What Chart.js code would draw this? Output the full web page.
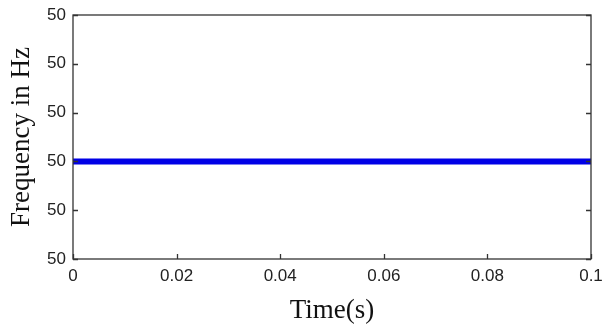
<html>
<head>
  <style>
    body { margin: 0; background: #fff; }
    #wrap { width: 603px; height: 331px; }
  </style>
</head>
<body>
  <div id="wrap"><canvas id="freqChart" width="603" height="331"></canvas></div>

  <script src="https://cdn.jsdelivr.net/npm/chart.js"></script>
  <script>
    // data
    const timeS = [0, 0.1];
    const freqHz = [50, 50];
    const xTicks = [0, 0.02, 0.04, 0.06, 0.08, 0.1];
    const xTickLabels = ['0', '0.02', '0.04', '0.06', '0.08', '0.1'];
    // y axis spans a tiny range round 50, so every label rounds to "50"
    const yTicks = [49.99998, 49.99999, 50, 50.00001, 50.00002, 50.00003];
    const yTickLabels = ['50', '50', '50', '50', '50', '50'];

    // inward ticks and box like the original plot
    const boxPlugin = {
      id: 'boxPlugin',
      afterDraw(chart) {
        const { ctx, chartArea: a, scales } = chart;
        ctx.save();
        ctx.strokeStyle = '#333';
        ctx.lineWidth = 1.3;
        ctx.strokeRect(a.left, a.top, a.right - a.left, a.bottom - a.top);
        const len = 5;
        ctx.beginPath();
        xTicks.forEach(v => {
          const x = Math.round(scales.x.getPixelForValue(v)) + 0.5;
          ctx.moveTo(x, a.bottom); ctx.lineTo(x, a.bottom - len);
        });
        yTicks.forEach(v => {
          const y = Math.round(scales.y.getPixelForValue(v)) + 0.5;
          ctx.moveTo(a.left, y); ctx.lineTo(a.left + len, y);
          ctx.moveTo(a.right, y); ctx.lineTo(a.right - len, y);
        });
        ctx.stroke();
        ctx.restore();
      }
    };

    const ctx = document.getElementById('freqChart').getContext('2d');
    new Chart(ctx, {
      type: 'line',
      data: {
        datasets: [{
          data: timeS.map((t, i) => ({ x: t, y: freqHz[i] })),
          borderColor: '#0000e6',
          borderWidth: 6,
          pointRadius: 0,
          fill: false
        }]
      },
      options: {
        responsive: false,
        animation: false,
        layout: { padding: { top: 15, right: 12, left: 0, bottom: 0 } },
        plugins: { legend: { display: false }, tooltip: { enabled: false } },
        scales: {
          x: {
            type: 'linear',
            min: 0,
            max: 0.1,
            afterBuildTicks: s => { s.ticks = xTicks.map(v => ({ value: v })); },
            afterFit: s => { s.height = 72; s.paddingLeft = 0; s.paddingRight = 0; },
            grid: { display: false, drawTicks: false },
            border: { display: false },
            ticks: {
              padding: 7,
              maxRotation: 0,
              color: '#222',
              font: { family: 'Liberation Sans', size: 17 },
              callback: (v, i) => xTickLabels[i]
            },
            title: {
              display: true,
              text: 'Time(s)',
              color: '#111',
              padding: { top: 2 },
              font: { family: 'Liberation Serif', size: 27 }
            }
          },
          y: {
            type: 'linear',
            min: yTicks[0],
            max: yTicks[yTicks.length - 1],
            afterBuildTicks: s => { s.ticks = yTicks.map(v => ({ value: v })); },
            afterFit: s => { s.width = 73; s.paddingTop = 0; s.paddingBottom = 0; },
            grid: { display: false, drawTicks: false },
            border: { display: false },
            ticks: {
              padding: 7,
              color: '#222',
              font: { family: 'Liberation Sans', size: 17 },
              callback: (v, i) => yTickLabels[i]
            },
            title: {
              display: true,
              text: 'Frequency in Hz',
              color: '#111',
              padding: { top: 6, bottom: 4 },
              font: { family: 'Liberation Serif', size: 27 }
            }
          }
        }
      },
      plugins: [boxPlugin]
    });
  </script>
</body>
</html>
